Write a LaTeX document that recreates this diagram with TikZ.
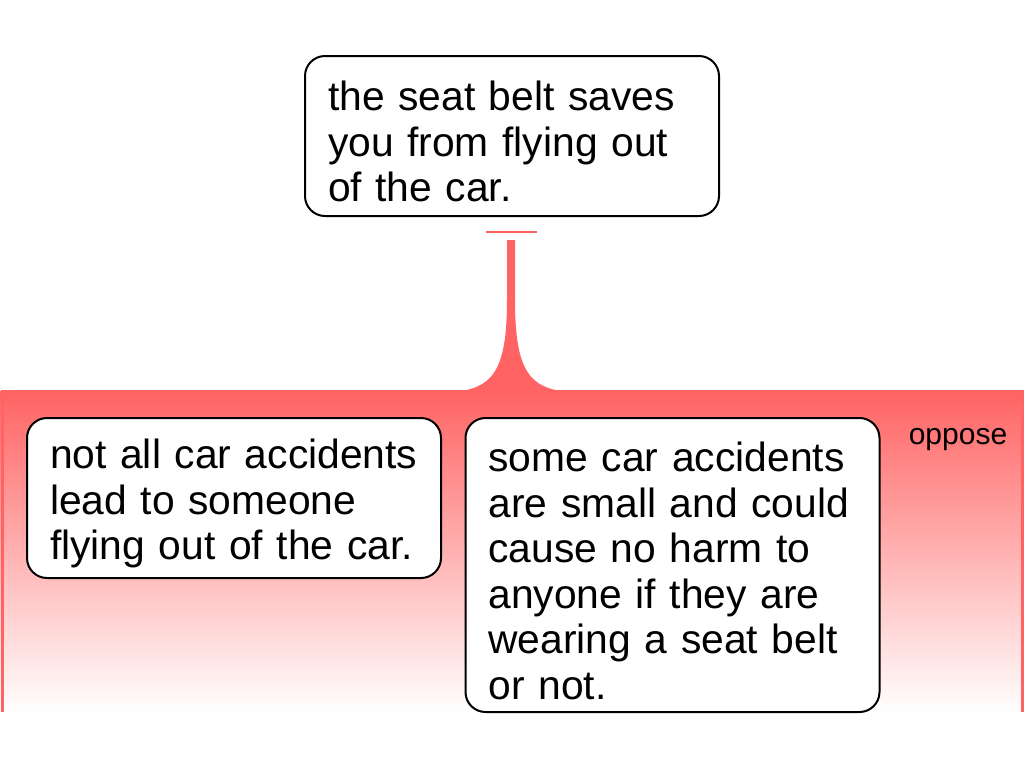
\documentclass[tikz,border=0pt]{standalone}
\usepackage{fontspec}
\setmainfont{Liberation Sans}
\usetikzlibrary{positioning}
\definecolor{oppose}{RGB}{255,99,99}

\begin{document}
\begin{tikzpicture}[
    x=0.5pt, y=-0.5pt,
    claim/.style={rectangle, draw=black, line width=1pt, fill=white,
                rounded corners=10pt, text width=184pt, inner xsep=11.5pt,
                align=left, font=\fontsize{20.4}{22.75}\selectfont,
                execute at begin node={\rule{0pt}{20.5pt}\ignorespaces}},
    tag/.style={font=\fontsize{15}{17}\selectfont, inner sep=0pt}
]
    \useasboundingbox (0,0) rectangle (1024,768);

    % Band
    \shade[top color=oppose, bottom color=white] (0,391) rectangle (1024,712);
    \draw[oppose, line width=1.5pt] (2,712) -- (2,391) -- (1022,391) -- (1022,712);
    \node[tag] (kind) at (958,440) {oppose};

    % Stem
    \fill[oppose] (507,240) -- (507,300) .. controls (507,372) and (492,389) .. (452,392)
        -- (570,392) .. controls (530,389) and (515,372) .. (515,300) -- (515,240) -- cycle;
    \draw[oppose, line width=1pt] (486,232) -- (537,232);

    % Claim
    \node[claim, minimum height=80pt] (top) at (512,136)
        {the seat belt saves\\you from flying out\\of the car.};

    % Reasons
    \node[claim, minimum height=80pt] (left) at (234,498)
        {not all car accidents\\lead to someone\\flying out of the car.};
    \node[claim, minimum height=147pt] (right) at (672.5,565)
        {some car accidents\\are small and could\\cause no harm to\\anyone if they are\\wearing a seat belt\\or not.};
\end{tikzpicture}
\end{document}
